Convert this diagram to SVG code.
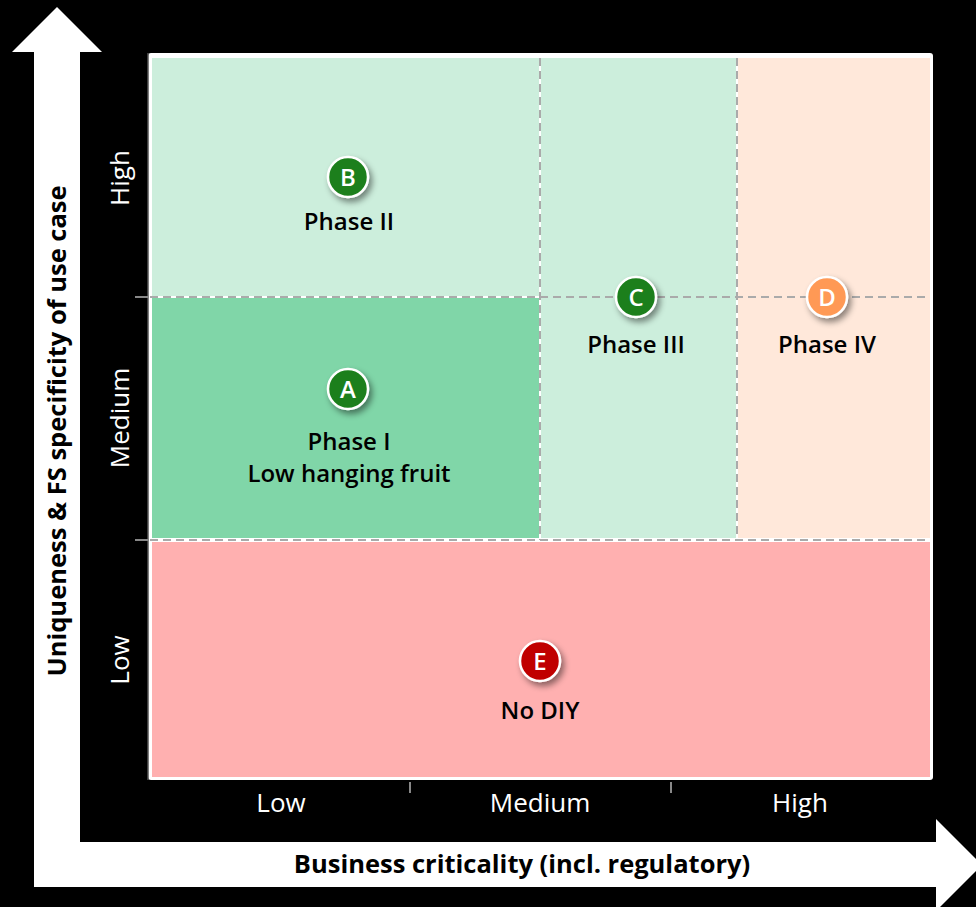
<svg xmlns="http://www.w3.org/2000/svg" width="976" height="907" viewBox="0 0 976 907">
<defs>
<filter id="sh" x="-50%" y="-50%" width="200%" height="200%">
<feDropShadow dx="3" dy="4" stdDeviation="3" flood-color="#000" flood-opacity="0.45"/>
</filter>
</defs>
<style>
.dash{stroke:#AAAAAA;stroke-width:2;stroke-dasharray:8,5;fill:none}
.tick{stroke:#888888;stroke-width:2}
.ax{font-family:"Open Sans","Noto Sans",sans-serif;font-size:26px;fill:#FFFFFF;text-anchor:middle}
.title{font-family:"Open Sans","Noto Sans",sans-serif;font-size:25.5px;font-weight:bold;fill:#000;text-anchor:middle}
.lbl{font-family:"Open Sans","Noto Sans",sans-serif;font-size:24px;font-weight:600;fill:#000;text-anchor:middle}
.let{font-family:"Open Sans","Noto Sans",sans-serif;font-size:24px;font-weight:600;fill:#FFF;text-anchor:middle}
.dot{stroke:#FFFFFF;stroke-width:2.5}
</style>
<rect x="0" y="0" width="976" height="907" fill="#000"/>
<g id="axis-arrows">
<polygon points="57,7 102,52 80,52 80,887 34,887 34,52 12,52" fill="#FFF"/>
<polygon points="34,842 936,842 936,819 982,865 936,911 936,887 34,887" fill="#FFF"/>
</g>
<g id="chart">
<rect x="148" y="53" width="785" height="727" rx="3" fill="#FFF"/>
<rect x="152" y="58" width="387" height="238" fill="#CCEEDC"/>
<rect x="152" y="298" width="387" height="240" fill="#80D6A8"/>
<rect x="541" y="58" width="195" height="480" fill="#CCEEDC"/>
<rect x="738" y="58" width="192" height="480" fill="#FFE8DA"/>
<rect x="152" y="542" width="778" height="235" fill="#FFB0B0"/>
<line x1="148" y1="53" x2="148" y2="780" stroke="#555" stroke-width="1.5"/>
</g>
<g id="connectors">
<line class="dash" x1="150" y1="297" x2="930" y2="297"/>
<line class="dash" x1="150" y1="540" x2="930" y2="540"/>
<line class="dash" x1="540" y1="58" x2="540" y2="540"/>
<line class="dash" x1="737" y1="58" x2="737" y2="540"/>
<line class="tick" x1="135" y1="540" x2="148" y2="540"/>
<line class="tick" x1="135" y1="297" x2="148" y2="297"/>
<line class="tick" x1="410" y1="782" x2="410" y2="793"/>
<line class="tick" x1="671" y1="782" x2="671" y2="793"/>
</g>
<g id="axis-labels">
<text class="ax" transform="translate(129,178) rotate(-90)">High</text>
<text class="ax" transform="translate(129,418) rotate(-90)">Medium</text>
<text class="ax" transform="translate(129,660) rotate(-90)">Low</text>
<text class="ax" x="281" y="812">Low</text>
<text class="ax" x="540" y="812">Medium</text>
<text class="ax" x="800" y="812">High</text>
<text class="title" transform="translate(66,431) rotate(-90)">Uniqueness &amp; FS specificity of use case</text>
<text class="title" x="522" y="873">Business criticality (incl. regulatory)</text>
</g>
<g id="node-B">
<circle class="dot" cx="348" cy="177" r="20" fill="#1A7F1A" filter="url(#sh)"/>
<text class="let" x="348" y="186">B</text>
<text class="lbl" x="349" y="230">Phase II</text>
</g>
<g id="node-A">
<circle class="dot" cx="348" cy="389" r="20" fill="#1A7F1A" filter="url(#sh)"/>
<text class="let" x="348" y="398">A</text>
<text class="lbl" x="349" y="450">Phase I</text>
<text class="lbl" x="349" y="482">Low hanging fruit</text>
</g>
<g id="node-C">
<circle class="dot" cx="636" cy="297" r="20" fill="#1A7F1A" filter="url(#sh)"/>
<text class="let" x="636" y="306">C</text>
<text class="lbl" x="636" y="353">Phase III</text>
</g>
<g id="node-D">
<circle class="dot" cx="827" cy="297" r="20" fill="#FF9955" filter="url(#sh)"/>
<text class="let" x="827" y="306">D</text>
<text class="lbl" x="827" y="353">Phase IV</text>
</g>
<g id="node-E">
<circle class="dot" cx="540" cy="661" r="20" fill="#C00000" filter="url(#sh)"/>
<text class="let" x="540" y="670">E</text>
<text class="lbl" x="540" y="719">No DIY</text>
</g>
</svg>
